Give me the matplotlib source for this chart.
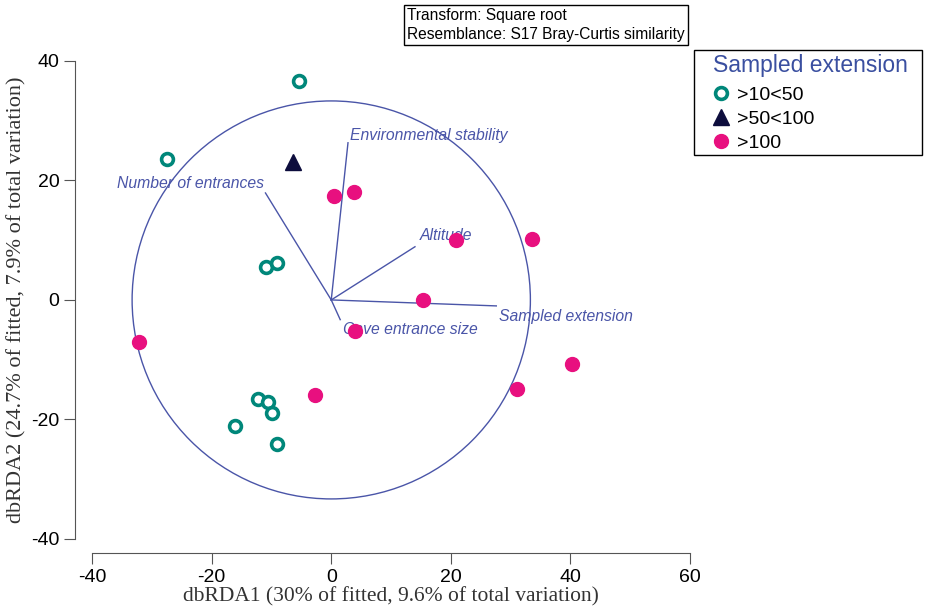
import numpy as np
import matplotlib.pyplot as plt
from matplotlib.patches import Circle, Rectangle

plt.rcParams['axes.unicode_minus'] = False

# site scores on the first two dbRDA axes, by sampled extension class
low_x = [-5.4, -27.4, -10.9, -9.0, -12.2, -10.5, -9.9, -16.1, -9.0]
low_y = [36.7, 23.6, 5.5, 6.2, -16.6, -17.1, -18.9, -21.1, -24.1]

mid_x = [-6.4]
mid_y = [23.1]

high_x = [0.5, 3.8, 20.9, 33.6, 15.4, 4.0, -32.1, -2.7, 31.1, 40.3]
high_y = [17.4, 18.1, 10.0, 10.2, 0.0, -5.2, -7.0, -15.9, -14.9, -10.7]

# predictor vectors (end points) and their labels
vec_names = ["Environmental stability", "Number of entrances", "Altitude",
             "Sampled extension", "Cave entrance size"]
vec_x = [2.8, -11.0, 14.0, 27.6, 1.5]
vec_y = [26.3, 17.9, 8.9, -1.0, -3.3]
circle_r = 33.3

blue = '#4a55a8'

fig = plt.figure(figsize=(9.26, 6.09), dpi=100)
ax = fig.add_axes([0.0994, 0.115, 0.6458, 0.785])

ax.add_patch(Circle((0, 0), circle_r, fill=False, color=blue, lw=1.0, zorder=1))

for vx, vy in zip(vec_x, vec_y):
    ax.plot([0, vx], [0, vy], color=blue, lw=1.0, zorder=1)

# label positions relative to vector tips
lab_pos = [(3.2, 27.5, 'left'), (-11.3, 19.5, 'right'), (14.8, 10.8, 'left'),
           (28.0, -2.8, 'left'), (2.0, -5.0, 'left')]
for name, (lx, ly, ha) in zip(vec_names, lab_pos):
    ax.text(lx, ly, name, color=blue, style='italic', fontsize=11.3,
            family='Liberation Sans', ha=ha, va='center', zorder=2)

ax.plot(low_x, low_y, 'o', ms=8.5, mfc='white', mec='#00877a', mew=2.6,
        ls='none', label='>10<50', zorder=3)
ax.plot(mid_x, mid_y, '^', ms=11, color='#0d0d3d', ls='none',
        label='>50<100', zorder=3)
ax.plot(high_x, high_y, 'o', ms=10, color='#e8107f', ls='none',
        label='>100', zorder=3)

ax.set_xlim(-40, 60)
ax.set_ylim(-40, 40)
ax.set_xticks([-40, -20, 0, 20, 40, 60])
ax.set_yticks([-40, -20, 0, 20, 40])
for s in ['top', 'right']:
    ax.spines[s].set_visible(False)
ax.spines['left'].set_position(('outward', 12))
ax.spines['bottom'].set_position(('outward', 10))
for s in ['left', 'bottom']:
    ax.spines[s].set_color('#555555')
ax.tick_params(length=8, color='#555555', labelsize=14)
for lab in ax.get_xticklabels() + ax.get_yticklabels():
    lab.set_family('Liberation Sans')

ax.set_xlabel('dbRDA1 (30% of fitted, 9.6% of total variation)',
              family='Liberation Serif', fontsize=15.5, color='#333333', labelpad=1)
ax.set_ylabel('dbRDA2 (24.7% of fitted, 7.9% of total variation)',
              family='Liberation Serif', fontsize=16, color='#333333', labelpad=3)

fig.text(0.440, 0.959, 'Transform: Square root\nResemblance: S17 Bray-Curtis similarity',
         family='Liberation Sans', fontsize=11.2, va='center', ha='left',
         linespacing=1.35,
         bbox=dict(boxstyle='square,pad=0.2', fc='white', ec='black', lw=1))

# legend contents without its own frame; the box is drawn separately
leg = fig.legend(loc='upper left', bbox_to_anchor=(0.770, 0.912), frameon=False,
                 title='Sampled extension',
                 prop={'family': 'Liberation Sans', 'size': 14},
                 handlelength=0.8, handletextpad=0.45, labelspacing=0.33,
                 borderpad=0, borderaxespad=0)
leg.get_title().set_color('#3a4fa0')
leg.get_title().set_fontsize(16.5)
leg.get_title().set_family('Liberation Sans')
leg._legend_box.align = 'left'
leg._legend_box.sep += 2.5

fig.patches.append(Rectangle((0.7495, 0.7455), 0.2462, 0.1724, fill=False,
                             ec='black', lw=1.0, transform=fig.transFigure,
                             figure=fig))

fig.savefig('out.png', dpi=100)
